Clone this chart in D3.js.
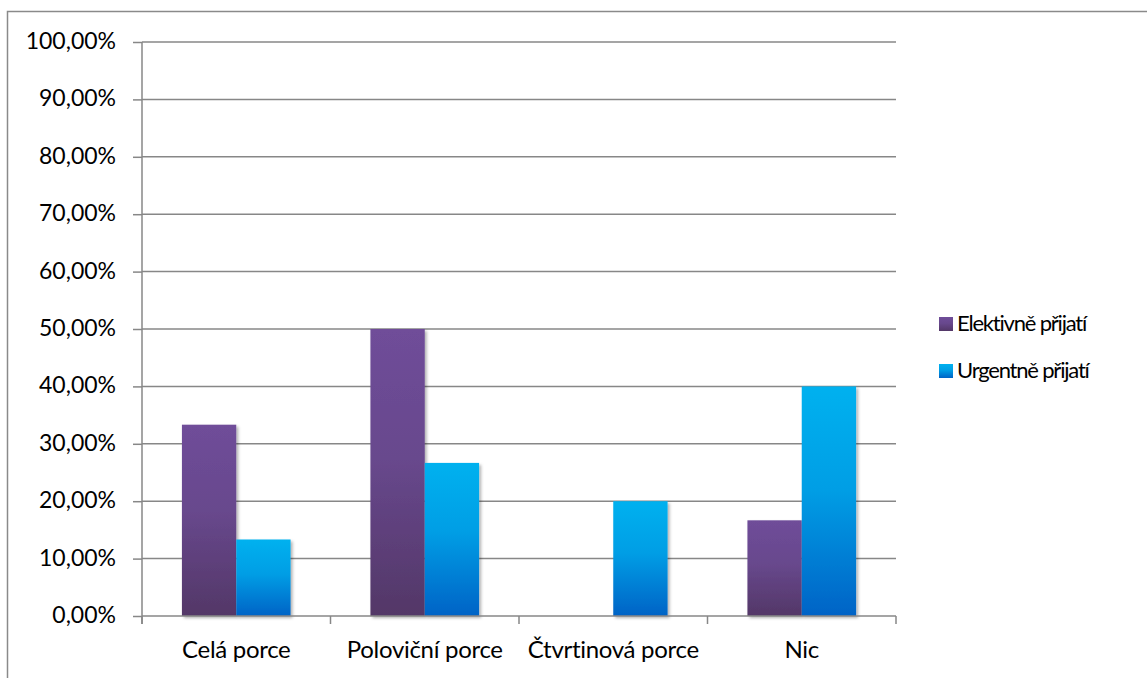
<!DOCTYPE html>
<html>
<head>
<meta charset="utf-8">
<script src="https://cdn.jsdelivr.net/npm/d3@7"></script>
<style>
  html, body { margin: 0; padding: 0; background: #fff; }
  svg { display: block; font-family: Lato, "Open Sans", sans-serif; }
</style>
</head>
<body>
<svg id="chart" width="1147" height="678"></svg>
<script>
// Categories and series values (shares of patients)
const categories = ["Celá porce", "Poloviční porce", "Čtvrtinová porce", "Nic"];
const seriesNames = ["Elektivně přijatí", "Urgentně přijatí"];
const elektivne = [0.3333, 0.5, 0, 0.1667];
const urgentne = [0.1333, 0.2667, 0.2, 0.4];
const yTicks = [0, 0.1, 0.2, 0.3, 0.4, 0.5, 0.6, 0.7, 0.8, 0.9, 1.0];

const seriesValues = [elektivne, urgentne];
const data = categories.map((c, i) => ({
  category: c,
  values: seriesNames.map((s, j) => ({ series: s, value: seriesValues[j][i] }))
}));

const svg = d3.select("#chart");
const plotLeft = 142, plotRight = 896, plotTop = 42, plotBottom = 616;
const gridColor = "#878787";

// Outer frame
svg.append("rect")
  .attr("x", 7.5).attr("y", 11.5)
  .attr("width", 1200).attr("height", 700)
  .attr("fill", "none").attr("stroke", "#8a8a8a").attr("stroke-width", 1.5);

const defs = svg.append("defs");
const gradients = [
  { id: "grad-purple", top: "#6f4d99", bottom: "#533767" },
  { id: "grad-blue", top: "#00b1ef", bottom: "#0063c6" }
];
gradients.forEach(g => {
  const lg = defs.append("linearGradient").attr("id", g.id)
    .attr("x1", 0).attr("y1", 0).attr("x2", 0).attr("y2", 1);
  lg.append("stop").attr("offset", "0%").attr("stop-color", g.top);
  lg.append("stop").attr("offset", "45%").attr("stop-color", d3.interpolateRgb(g.top, g.bottom)(0.25));
  lg.append("stop").attr("offset", "100%").attr("stop-color", g.bottom);
});
const shadow = defs.append("filter").attr("id", "bar-shadow")
  .attr("x", "-20%").attr("y", "-20%").attr("width", "150%").attr("height", "150%");
shadow.append("feDropShadow")
  .attr("dx", 2).attr("dy", 2).attr("stdDeviation", 1.8)
  .attr("flood-color", "#000").attr("flood-opacity", 0.3);

const color = d3.scaleOrdinal().domain(seriesNames).range(["url(#grad-purple)", "url(#grad-blue)"]);

const x = d3.scaleBand().domain(categories).range([plotLeft, plotRight]).paddingInner(0).paddingOuter(0);
const xInner = d3.scaleBand().domain(seriesNames).range([0, x.bandwidth()]).paddingInner(0).paddingOuter(0.735);
const y = d3.scaleLinear().domain([0, 1]).range([plotBottom, plotTop]);

const locale = d3.formatLocale({ decimal: ",", thousands: " ", grouping: [3], currency: ["", " Kč"] });
const pct = locale.format(".2%");

// Horizontal gridlines
svg.append("g").selectAll("line").data(yTicks.filter(t => t > 0)).join("line")
  .attr("x1", plotLeft).attr("x2", plotRight)
  .attr("y1", d => y(d)).attr("y2", d => y(d))
  .attr("stroke", gridColor).attr("stroke-width", 1.5);

// Y axis
const yAxis = svg.append("g").attr("transform", `translate(${plotLeft},0)`)
  .call(d3.axisLeft(y).tickValues(yTicks).tickFormat(pct).tickSize(9).tickPadding(17));
yAxis.select(".domain").remove();
yAxis.selectAll(".tick line").attr("stroke", gridColor).attr("stroke-width", 1.5);
yAxis.selectAll(".tick text").attr("font-size", 23).attr("fill", "#000")
  .attr("font-family", "Lato, 'Open Sans', sans-serif").attr("dy", "0.28em");
svg.append("line")
  .attr("x1", plotLeft).attr("x2", plotLeft).attr("y1", plotTop).attr("y2", plotBottom + 8)
  .attr("stroke", gridColor).attr("stroke-width", 1.5);

// Bars
const groups = svg.append("g").selectAll("g").data(data).join("g")
  .attr("transform", d => `translate(${x(d.category)},0)`);
groups.selectAll("rect").data(d => d.values.filter(v => v.value > 0)).join("rect")
  .attr("x", d => xInner(d.series))
  .attr("width", xInner.bandwidth())
  .attr("y", d => y(d.value))
  .attr("height", d => y(0) - y(d.value))
  .attr("fill", d => color(d.series))
  .attr("filter", "url(#bar-shadow)");

// X axis line and category boundary ticks
svg.append("line")
  .attr("x1", plotLeft).attr("x2", plotRight).attr("y1", plotBottom).attr("y2", plotBottom)
  .attr("stroke", gridColor).attr("stroke-width", 1.5);
const boundaries = categories.map(c => x(c)).concat([x.range()[1]]);
svg.append("g").selectAll("line").data(boundaries).join("line")
  .attr("x1", d => d).attr("x2", d => d).attr("y1", plotBottom).attr("y2", plotBottom + 8)
  .attr("stroke", gridColor).attr("stroke-width", 1.5);

svg.append("g").selectAll("text").data(categories).join("text")
  .attr("x", d => x(d) + x.bandwidth() / 2)
  .attr("y", 658)
  .attr("text-anchor", "middle")
  .attr("font-size", 24)
  .attr("letter-spacing", -0.3)
  .text(d => d);

// Legend
const legend = svg.append("g").selectAll("g").data(seriesNames).join("g")
  .attr("transform", (d, i) => `translate(939,${317 + i * 47})`);
legend.append("rect").attr("width", 14).attr("height", 14)
  .attr("fill", d => color(d));
legend.append("text").attr("x", 18).attr("y", 14)
  .attr("font-size", 22).attr("letter-spacing", -1.2).text(d => d);
</script>
</body>
</html>
